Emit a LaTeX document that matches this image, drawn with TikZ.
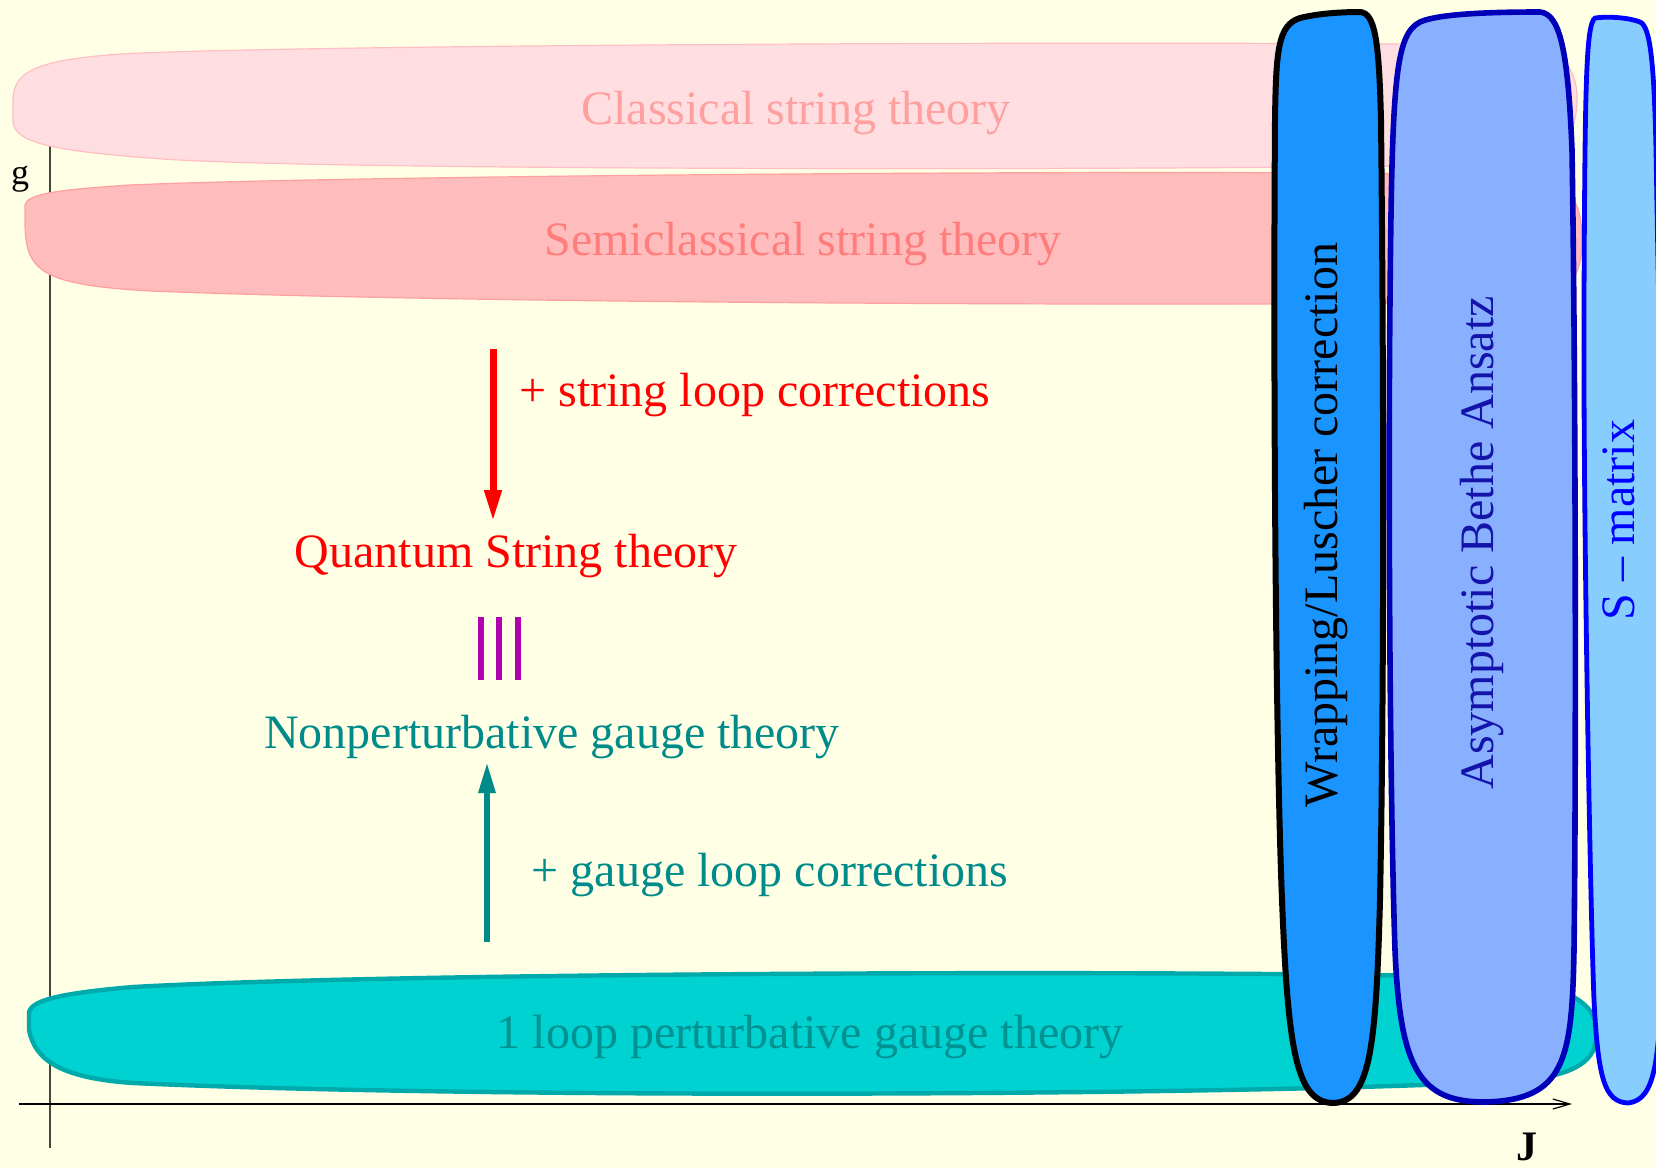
\documentclass[tikz,border=0pt]{standalone}
\usepackage{fontspec}
\setmainfont{Liberation Serif}
\usetikzlibrary{arrows.meta}
\definecolor{paper}{RGB}{255,255,230}
\definecolor{classfill}{RGB}{255,222,225}
\definecolor{classline}{RGB}{255,190,195}
\definecolor{classtext}{RGB}{255,160,160}
\definecolor{semifill}{RGB}{255,188,188}
\definecolor{semiline}{RGB}{255,160,160}
\definecolor{semitext}{RGB}{255,125,125}
\definecolor{loopfill}{RGB}{0,209,209}
\definecolor{loopline}{RGB}{0,170,170}
\definecolor{looptext}{RGB}{0,145,145}
\definecolor{gaugeteal}{RGB}{0,139,139}
\definecolor{wrapfill}{RGB}{26,148,255}
\definecolor{asymfill}{RGB}{136,176,255}
\definecolor{asymline}{RGB}{0,0,184}
\definecolor{asymtext}{RGB}{20,20,170}
\definecolor{sfill}{RGB}{135,206,255}
\definecolor{sline}{RGB}{0,0,255}
\definecolor{equivcol}{RGB}{176,0,176}
\definecolor{axiscol}{RGB}{70,70,60}
\tikzset{
  bigtext/.style={font=\fontsize{24}{28}\selectfont, inner sep=0pt},
  blob/.style={line join=round},
}
\begin{document}
\begin{tikzpicture}[x=0.5pt,y=-0.5pt]
  % canvas
  \fill[paper] (0,0) rectangle (1656,1168);
  \useasboundingbox (0,0) rectangle (1656,1168);
  \clip (0,0) rectangle (1656,1168);

  % axes
  \coordinate (gtop) at (50,120);
  \coordinate (gbot) at (50,1148);
  \coordinate (jleft) at (19,1104);
  \coordinate (jright) at (1572,1104);
  \draw[axiscol, line width=0.7pt] (gtop) -- (gbot);
  \draw[black, line width=0.6pt, -{Straight Barb[length=8.5pt,width=5pt]}] (jleft) -- (jright);
  \node[font=\fontsize{18}{20}\selectfont] (glabel) at (20,179) {g};
  \node[font=\fontsize{21}{24}\selectfont\bfseries, anchor=north, inner sep=0pt] (jlabel) at (1527,1133) {J};

  % classical string theory band
  \draw[blob, fill=classfill, draw=classline, line width=0.6pt]
    (13,112) -- (13,100) .. controls (13,70) and (40,60) .. (120,54)
    .. controls (300,44) and (1300,40) .. (1530,46)
    .. controls (1570,50) and (1578,80) .. (1577,102)
    .. controls (1576,130) and (1565,160) .. (1520,164)
    .. controls (1300,170) and (300,172) .. (150,158)
    .. controls (40,150) and (13,140) .. (13,120) -- cycle;

  % semiclassical string theory band
  \draw[blob, fill=semifill, draw=semiline, line width=0.6pt]
    (25,215) -- (25,205) .. controls (27,195) and (50,190) .. (130,185)
    .. controls (350,175) and (1300,168) .. (1530,176)
    .. controls (1575,180) and (1582,210) .. (1582,240)
    .. controls (1582,275) and (1570,300) .. (1520,302)
    .. controls (1300,306) and (500,305) .. (150,291)
    .. controls (60,286) and (40,275) .. (30,255)
    .. controls (26,245) and (25,235) .. (25,222) -- cycle;

  % one loop perturbative gauge theory band
  \draw[blob, fill=loopfill, draw=loopline, line width=2.2pt]
    (29,1030) -- (29,1012) .. controls (32,1002) and (50,994) .. (133,987)
    .. controls (400,972) and (1200,970) .. (1480,977)
    .. controls (1560,982) and (1597,1000) .. (1597,1032)
    .. controls (1597,1062) and (1575,1073) .. (1530,1080)
    .. controls (1300,1095) and (500,1100) .. (133,1083)
    .. controls (60,1078) and (35,1060) .. (29,1030) -- cycle;

  % wrapping / Luscher column
  \draw[blob, fill=wrapfill, draw=black, line width=3pt]
    (1275,120) .. controls (1276,50) and (1278,25) .. (1300,18)
    .. controls (1320,13) and (1345,12) .. (1360,12)
    .. controls (1375,13) and (1379,40) .. (1381,120)
    .. controls (1384,400) and (1384,700) .. (1380,900)
    .. controls (1376,1050) and (1370,1102) .. (1333,1103)
    .. controls (1296,1102) and (1288,1050) .. (1282,900)
    .. controls (1276,750) and (1273,400) .. (1275,120) -- cycle;

  % asymptotic Bethe ansatz column
  \draw[blob, fill=asymfill, draw=asymline, line width=2.8pt]
    (1390,300) .. controls (1392,80) and (1395,35) .. (1420,22)
    .. controls (1440,13) and (1500,12) .. (1540,12)
    .. controls (1560,14) and (1568,50) .. (1572,150)
    .. controls (1576,400) and (1576,800) .. (1574,950)
    .. controls (1572,1060) and (1565,1100) .. (1485,1102)
    .. controls (1420,1102) and (1400,1070) .. (1395,950)
    .. controls (1390,800) and (1388,500) .. (1390,300) -- cycle;

  % S-matrix column
  \draw[blob, fill=sfill, draw=sline, line width=2.4pt]
    (1584,300) .. controls (1585,80) and (1586,25) .. (1595,18)
    .. controls (1610,16) and (1630,18) .. (1640,22)
    .. controls (1650,26) and (1654,60) .. (1656,150)
    -- (1664,600) -- (1662,950)
    .. controls (1660,1060) and (1656,1100) .. (1628,1103)
    .. controls (1605,1102) and (1598,1080) .. (1594,1000)
    .. controls (1590,900) and (1583,500) .. (1584,300) -- cycle;

  % labels in the bands
  \node[bigtext, text=classtext, anchor=base] (classical) at (796,124) {Classical string theory};
  \node[bigtext, text=semitext, anchor=base] (semiclassical) at (803,255) {Semiclassical string theory};
  \node[bigtext, text=looptext, anchor=base] (oneloop) at (810,1048) {1 loop perturbative gauge theory};

  % labels in the columns
  \node[bigtext, text=black, rotate=90] (wrapping) at (1326,525) {Wrapping/Luscher correction};
  \node[bigtext, text=asymtext, rotate=90] (asymptotic) at (1482,543) {Asymptotic Bethe Ansatz};
  \node[bigtext, text=sline, rotate=90] (smatrix) at (1619,520) {S -- matrix};

  % string side
  \node[bigtext, text=red, anchor=base] (stringloop) at (755,406) {+ string loop corrections};
  \node[bigtext, text=red, anchor=base] (quantum) at (516,567) {Quantum String theory};
  \coordinate (redstart) at (493,349);
  \coordinate (redend) at (493,522);
  \draw[red, line width=3.5pt, -{Triangle[length=16pt,width=8pt]}] (redstart) -- (redend);

  % equivalence bars
  \foreach \xx [count=\i] in {481,499,518} {
    \coordinate (bt\i) at (\xx,617);
    \coordinate (bb\i) at (\xx,680);
    \draw[equivcol, line width=3pt] (bt\i) -- (bb\i);
  }

  % gauge side
  \node[bigtext, text=gaugeteal, anchor=base] (nonpert) at (552,748) {Nonperturbative gauge theory};
  \node[bigtext, text=gaugeteal, anchor=base] (gaugeloop) at (770,886) {+ gauge loop corrections};
  \coordinate (tealstart) at (487,942);
  \coordinate (tealend) at (487,762);
  \draw[gaugeteal, line width=3pt, -{Triangle[length=15.5pt,width=8pt]}] (tealstart) -- (tealend);
\end{tikzpicture}
\end{document}
